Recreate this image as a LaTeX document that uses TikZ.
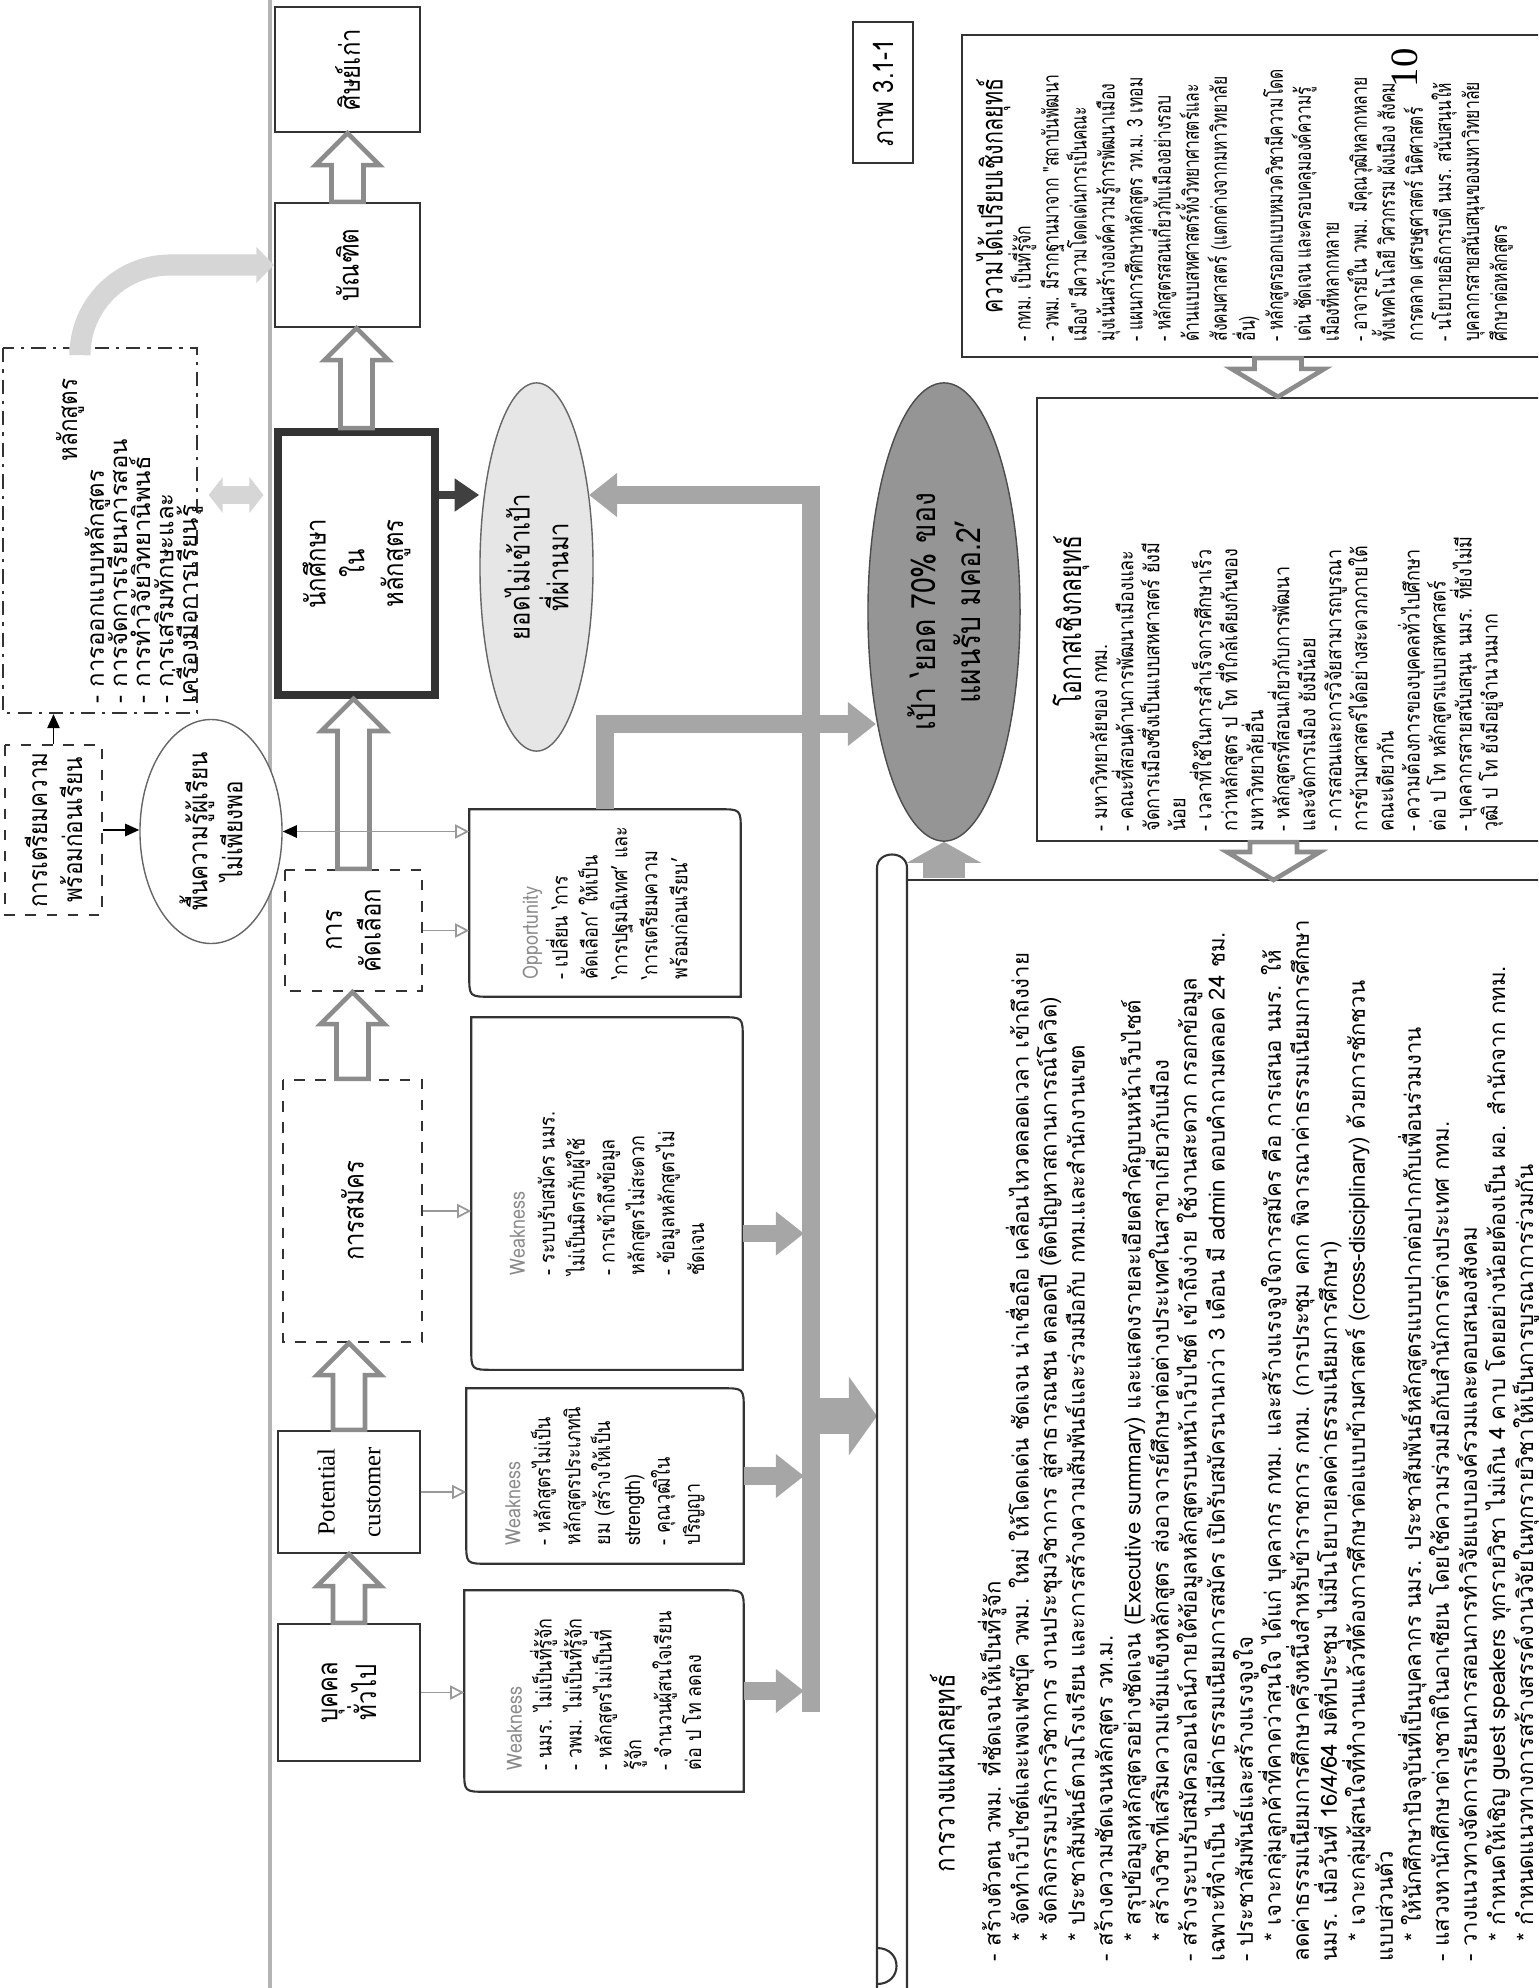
\documentclass[tikz,border=0pt]{standalone}
\usepackage{fontspec}
\setmainfont{Liberation Serif}
\newfontfamily\thaifont[Script=Thai,FakeStretch=0.85]{Loma}
\newfontfamily\thainarrow[Script=Thai,FakeStretch=0.72]{Loma}
\newfontfamily\thaiwide[Script=Thai]{Loma}
\usetikzlibrary{arrows.meta,calc,shapes.geometric,positioning}
\lineskiplimit=-100pt
\lineskip=0pt
\definecolor{barfill}{HTML}{A6A6A6}
\definecolor{lightarrow}{HTML}{D6D6D6}
\definecolor{targetfill}{HTML}{959595}
\definecolor{missfill}{HTML}{E6E6E6}
\definecolor{blockedge}{HTML}{8C8C8C}
\definecolor{wkgray}{HTML}{8A8A8A}
\definecolor{foldline}{HTML}{B4B4B4}
\tikzset{
  boxline/.style={draw=black!80,line width=0.6pt},
  mainbox/.style={boxline,rotate=90,align=center,inner sep=2pt,font=\thaifont\fontsize{8}{11}\selectfont},
  dashbox/.style={mainbox,dashed},
  weakbox/.style={rotate=90,align=left,inner sep=0pt,font=\thaifont\fontsize{6}{8.5}\selectfont},
  blockline/.style={draw=blockedge,fill=white,line width=1.3pt},
  thinarrow/.style={draw=gray!80,line width=0.5pt,-{Triangle[open,length=4pt,width=4pt]}},
  blackarrow/.style={draw=black,line width=0.5pt,-{Triangle[length=4pt,width=3.5pt]}},
  graybar/.style={draw=barfill,line width=5pt,-{Triangle[length=8pt,width=12pt]}},
  bodytext/.style={rotate=90,anchor=north west,align=left,inner sep=0pt,font=\thainarrow\fontsize{6.2}{7.97}\selectfont}
}
% hollow block arrow: from, to, shaft half width, head half width, head length
\newcommand{\blockarrow}[5]{%
  \path (#1) coordinate (ba-s) (#2) coordinate (ba-t);
  \path ($(ba-t)!#5!(ba-s)$) coordinate (ba-b);
  \draw[blockline] ($(ba-s)!#3!90:(ba-t)$) -- ($(ba-b)!#3!90:(ba-t)$) -- ($(ba-b)!#4!90:(ba-t)$) -- (ba-t)
    -- ($(ba-b)!#4!-90:(ba-t)$) -- ($(ba-b)!#3!-90:(ba-t)$) -- ($(ba-s)!#3!-90:(ba-t)$) -- cycle;}
% box with two rounded corners (top right, bottom left)
\newcommand{\diagoutline}[1]{%
  \draw[boxline] (#1.north east) -- ($(#1.south east)+(-22,0)$) .. controls (#1.south east) .. ($(#1.south east)+(0,22)$)
    -- (#1.south west) -- ($(#1.north west)+(22,0)$) .. controls (#1.north west) .. ($(#1.north west)+(0,-22)$) -- cycle;}
\newcommand{\stline}{\hspace*{0.2cm}* }
\begin{document}
\begin{tikzpicture}[x=0.01cm,y=-0.01cm]
\useasboundingbox (0,0) rectangle (1538,1988);
\clip (0,0) rectangle (1538,1988);
\draw[foldline,line width=1.2pt](270,0)--(270,1988);
%main chain
\node[mainbox,minimum width=1.25cm,minimum height=1.45cm] (alumni) at (347.5,69.5) {ศิษย์เก่า};
\node[mainbox,minimum width=1.24cm,minimum height=1.45cm] (grad) at (347.5,265) {บัณฑิต};
\node[mainbox,line width=2.2pt,minimum width=2.63cm,minimum height=1.57cm] (student) at (356.5,563.5) {นักศึกษา\\ใน\\หลักสูตร};
\node[dashbox,minimum width=1.21cm,minimum height=1.37cm] (select) at (353.5,930.5) {การ\\คัดเลือก};
\node[dashbox,minimum width=2.62cm,minimum height=1.39cm] (apply) at (352.5,1211) {การสมัคร};
\node[mainbox,minimum width=1.22cm,minimum height=1.42cm,font=\fontsize{7}{13}\selectfont] (potential) at (349,1492) {Potential\\customer};
\node[mainbox,minimum width=1.37cm,minimum height=1.42cm] (general) at (349,1692.5) {บุคคล\\ทั่วไป};
\blockarrow{general.east}{general.east |- potential.west}{0.16cm}{0.32cm}{0.32cm}
\blockarrow{potential.east}{potential.east |- apply.west}{0.16cm}{0.32cm}{0.32cm}
\blockarrow{apply.east}{apply.east |- select.west}{0.16cm}{0.32cm}{0.32cm}
\blockarrow{select.east}{select.east |- student.west}{0.16cm}{0.32cm}{0.32cm}
\blockarrow{student.east}{student.east |- grad.west}{0.16cm}{0.32cm}{0.32cm}
\blockarrow{grad.east}{grad.east |- alumni.west}{0.16cm}{0.32cm}{0.32cm}
%left side
\node[boxline,rotate=90,dash pattern=on 4pt off 2pt on 1pt off 2pt,minimum width=3.65cm,minimum height=1.94cm] (curr) at (100,530.5) {};
\node[rotate=90,inner sep=0pt,font=\thaifont\fontsize{7.5}{9}\selectfont] (currtitle) at (70,420) {หลักสูตร};
\node[bodytext,font=\thaiwide\fontsize{6.8}{6.6}\selectfont] (currlist) at (84,704)
  {- การออกแบบหลักสูตร\\- การจัดการเรียนการสอน\\- การทำวิจัยวิทยานิพนธ์\\- การเสริมทักษะและ\\เครื่องมือการเรียนรู้};
\node[dashbox,minimum width=1.6cm,minimum height=0.97cm,font=\thaifont\fontsize{7.5}{10}\selectfont] (prep) at (53.5,830) {การเตรียมความ\\พร้อมก่อนเรียน};
\node[ellipse,draw=black!60,fill=white,rotate=90,minimum width=2.17cm,minimum height=1.42cm,inner sep=0pt,align=center,font=\thaifont\fontsize{7.5}{10}\selectfont] (knowl) at (211,831.5) {พื้นความรู้ผู้เรียน\\ไม่เพียงพอ};
\node[ellipse,draw=black!60,fill=missfill,rotate=90,minimum width=3.68cm,minimum height=1.13cm,inner sep=0pt,align=center,font=\thaifont\fontsize{8}{11}\selectfont] (missed) at (536.5,567) {ยอดไม่เข้าเป้า\\ที่ผ่านมา};
\coordinate (midrow) at (0,495);
\coordinate (missin) at (589,495);
\draw[blackarrow] (prep.east) -- (prep.east |- curr.west);
\draw[blackarrow] (prep.south) -- (prep.south -| knowl.north);
\draw[lightarrow,line width=5pt,shorten <=3pt,shorten >=3pt,{Triangle[length=4pt,width=10pt]}-{Triangle[length=4pt,width=10pt]}] (curr.south |- midrow) -- (student.north |- midrow);
\draw[lightarrow,line width=6pt,rounded corners=0.9cm,-{Triangle[length=5pt,width=10pt]}] ($(curr.east)+(-20,0)$) |- (grad.north);
\draw[black!75,line width=2.5pt,-{Triangle[length=7pt,width=9pt]}] (student.south |- midrow) -- (missed.north |- midrow);
%weakness boxes
\node[weakbox,minimum width=2cm,minimum height=2.78cm] (w1) at (604,1691)
  {{\color{wkgray}Weakness}\\- นมร. ไม่เป็นที่รู้จัก\\- วพม. ไม่เป็นที่รู้จัก\\- หลักสูตรไม่เป็นที่\\รู้จัก\\- จำนวนผู้สนใจเรียน\\ต่อ ป โท ลดลง};
\node[weakbox,minimum width=1.74cm,minimum height=2.76cm] (w2) at (605,1476)
  {{\color{wkgray}Weakness}\\- หลักสูตรไม่เป็น\\หลักสูตรประเภทนิ\\ยม (สร้างให้เป็น\\strength)\\- คุณวุฒิใน\\ปริญญา};
\node[weakbox,minimum width=3.51cm,minimum height=2.7cm] (w3) at (607,1193.5)
  {{\color{wkgray}Weakness}\\- ระบบรับสมัคร นมร.\\ไม่เป็นมิตรกับผู้ใช้\\- การเข้าถึงข้อมูล\\หลักสูตรไม่สะดวก\\- ข้อมูลหลักสูตรไม่\\ชัดเจน};
\node[weakbox,minimum width=1.86cm,minimum height=2.7cm] (opp) at (605,903)
  {{\color{wkgray}Opportunity}\\- เปลี่ยน ‘การ\\คัดเลือก’ ให้เป็น\\‘การปฐมนิเทศ’ และ\\‘การเตรียมความ\\พร้อมก่อนเรียน’};
\diagoutline{w1}
\diagoutline{w2}
\diagoutline{w3}
\diagoutline{opp}
\draw[thinarrow] (general.south) -- (general.south -| w1.north);
\draw[thinarrow] (potential.south) -- (potential.south -| w2.north);
\draw[thinarrow] (apply.south) -- (apply.south -| w3.north);
\draw[thinarrow] (select.south) -- (select.south -| opp.north);
\draw[draw=gray!80,line width=0.5pt,{Triangle[color=black,length=4pt,width=3.5pt]}-{Triangle[open,length=4pt,width=4pt]}] (knowl.south) -- (knowl.south -| opp.north);
%target
\node[ellipse,draw=black!70,fill=targetfill,rotate=90,minimum width=4.58cm,minimum height=1.52cm,inner sep=0pt,align=center,font=\thaifont\fontsize{9.5}{13}\selectfont] (target) at (944,612) {เป้า ‘ยอด 70\% ของ\\แผนรับ มคอ.2’};
%gray arrows
\coordinate (barx) at (811,0);
\coordinate (barbot) at (811,1712);
\coordinate (scrollin) at (877,1416);
\coordinate (scrollout) at (944,878);
\coordinate (tgtin) at (876,724);
\draw[graybar] (barbot) -- (barx |- midrow) -- (missin);
\draw[graybar,shorten >=2pt] (w1.south) -- (w1.south -| barx);
\draw[graybar,shorten >=2pt] (w2.south) -- (w2.south -| barx);
\draw[graybar,shorten >=2pt] ($(w3.south)+(0,40)$) -- ($(w3.south -| barx)+(0,40)$);
\draw[graybar] (opp.east) |- (tgtin);
\draw[graybar,line width=10pt,-{Triangle[length=8pt,width=22pt]}] (scrollin -| barx) -- (scrollin);
\draw[graybar,line width=12pt,-{Triangle[length=6pt,width=21pt]}] (scrollout) -- (target.west);
%right column
\node[draw=black!80,line width=0.6pt,rotate=90,minimum width=1.41cm,minimum height=0.6cm,font=\thaifont\fontsize{8}{10}\selectfont] (figlabel) at (883,92.5) {ภาพ 3.1-1};
\node[boxline,rotate=90,minimum width=3.22cm,minimum height=5.98cm] (strength) at (1261,196) {};
\node[boxline,rotate=90,minimum width=4.43cm,minimum height=5.23cm] (oppbox) at (1298.5,619.5) {};
\node[bodytext] (strengthtxt) at (975,342)
  {\makebox[2.9cm][c]{\fontsize{8.5}{8.5}\selectfont ความได้เปรียบเชิงกลยุทธ์}\\
  - กทม. เป็นที่รู้จัก\\
  - วพม. มีรากฐานมาจาก "สถาบันพัฒนา\\
  เมือง" มีความโดดเด่นการเป็นคณะ\\
  มุ่งเน้นสร้างองค์ความรู้การพัฒนาเมือง\\
  - แผนการศึกษาหลักสูตร วท.ม. 3 เทอม\\
  - หลักสูตรสอนเกี่ยวกับเมืองอย่างรอบ\\
  ด้านแบบสหศาสตร์ทั้งวิทยาศาสตร์และ\\
  สังคมศาสตร์ (แตกต่างจากมหาวิทยาลัย\\
  อื่น)\\
  - หลักสูตรออกแบบหมวดวิชามีความโดด\\
  เด่น ชัดเจน และครอบคลุมองค์ความรู้\\
  เมืองที่หลากหลาย\\
  - อาจารย์ใน วพม. มีคุณวุฒิหลากหลาย\\
  ทั้งเทคโนโลยี วิศวกรรม ผังเมือง สังคม\\
  การตลาด เศรษฐศาสตร์ นิติศาสตร์\\
  - นโยบายอธิการบดี นมร. สนับสนุนให้\\
  บุคลากรสายสนับสนุนของมหาวิทยาลัย\\
  ศึกษาต่อหลักสูตร};
\node[bodytext,font=\thaifont\fontsize{6}{7.4}\selectfont] (opptxt) at (1052,832)
  {\makebox[4.2cm][c]{\thainarrow\fontsize{9}{9}\selectfont โอกาสเชิงกลยุทธ์}\\
  - มหาวิทยาลัยของ กทม.\\
  - คณะที่สอนด้านการพัฒนาเมืองและ\\
  จัดการเมืองซึ่งเป็นแบบสหศาสตร์ ยังมี\\
  น้อย\\
  - เวลาที่ใช้ในการสำเร็จการศึกษาเร็ว\\
  กว่าหลักสูตร ป โท ที่ใกล้เคียงกันของ\\
  มหาวิทยาลัยอื่น\\
  - หลักสูตรที่สอนเกี่ยวกับการพัฒนา\\
  และจัดการเมือง ยังมีน้อย\\
  - การสอนและการวิจัยสามารถบูรณา\\
  การข้ามศาสตร์ได้อย่างสะดวกภายใต้\\
  คณะเดียวกัน\\
  - ความต้องการของบุคคลทั่วไปศึกษา\\
  ต่อ ป โท หลักสูตรแบบสหศาสตร์\\
  - บุคลากรสายสนับสนุน นมร. ที่ยังไม่มี\\
  วุฒิ ป โท ยังมีอยู่จำนวนมาก};
\node[rotate=90,font=\fontsize{11}{12}\selectfont] (pagenum) at (1405,68) {10};
\coordinate (sa) at ($(strength.west)+(17,0)$);
\blockarrow{sa}{sa |- oppbox.east}{0.235cm}{0.465cm}{0.28cm}
%scroll
\coordinate (scrolltop) at (0,880);
\draw[boxline] (877,1988) -- (877,868) .. controls (877,850) and (907,850) .. (907,868) -- (907,1988);
\draw[boxline] (907,880) -- (1560,880);
\draw[boxline] (877,1948) .. controls (903,1948) and (903,1984) .. (877,1984);
\coordinate (oa) at ($(oppbox.west)+(-25,0)$);
\blockarrow{oa}{oa |- scrolltop}{0.235cm}{0.465cm}{0.28cm}
\node[rotate=90,font=\thaifont\fontsize{8}{10}\selectfont] (plantitle) at (946,1773) {การวางแผนกลยุทธ์};
\node[bodytext,font=\thaiwide\fontsize{6.3}{7.97}\selectfont] (plantxt) at (977,1962)
  {- สร้างตัวตน วพม. ที่ชัดเจนให้เป็นที่รู้จัก\\
  \stline จัดทำเว็บไซต์และเพจเฟซบุ๊ค วพม. ใหม่ ให้โดดเด่น ชัดเจน น่าเชื่อถือ เคลื่อนไหวตลอดเวลา เข้าถึงง่าย\\
  \stline จัดกิจกรรมบริการวิชาการ งานประชุมวิชาการ สู่สาธารณชน ตลอดปี (ติดปัญหาสถานการณ์โควิด)\\
  \stline ประชาสัมพันธ์ตามโรงเรียน และการสร้างความสัมพันธ์และร่วมมือกับ กทม.และสำนักงานเขต\\
  - สร้างความชัดเจนหลักสูตร วท.ม.\\
  \stline สรุปข้อมูลหลักสูตรอย่างชัดเจน (Executive summary) และแสดงรายละเอียดสำคัญบนหน้าเว็บไซต์\\
  \stline สร้างวิชาที่เสริมความเข้มแข็งหลักสูตร ส่งอาจารย์ศึกษาต่อต่างประเทศในสาขาเกี่ยวกับเมือง\\
  - สร้างระบบรับสมัครออนไลน์ภายใต้ข้อมูลหลักสูตรบนหน้าเว็บไซต์ เข้าถึงง่าย ใช้งานสะดวก กรอกข้อมูล\\
  เฉพาะที่จำเป็น ไม่มีค่าธรรมเนียมการสมัคร เปิดรับสมัครนานกว่า 3 เดือน มี admin ตอบคำถามตลอด 24 ชม.\\
  - ประชาสัมพันธ์และสร้างแรงจูงใจ\\
  \stline เจาะกลุ่มลูกค้าที่คาดว่าสนใจ ได้แก่ บุคลากร กทม. และสร้างแรงจูงใจการสมัคร คือ การเสนอ นมร. ให้\\
  ลดค่าธรรมเนียมการศึกษาครึ่งหนึ่งสำหรับข้าราชการ กทม. (การประชุม คกก พิจารณาค่าธรรมเนียมการศึกษา\\
  นมร. เมื่อวันที่ 16/4/64 มติที่ประชุม ไม่มีนโยบายลดค่าธรรมเนียมการศึกษา)\\
  \stline เจาะกลุ่มผู้สนใจที่ทำงานแล้วที่ต้องการศึกษาต่อแบบข้ามศาสตร์ (cross-disciplinary) ด้วยการชักชวน\\
  แบบส่วนตัว\\
  \stline ให้นักศึกษาปัจจุบันที่เป็นบุคลากร นมร. ประชาสัมพันธ์หลักสูตรแบบปากต่อปากกับเพื่อนร่วมงาน\\
  - แสวงหานักศึกษาต่างชาติในอาเซียน โดยใช้ความร่วมมือกับสำนักการต่างประเทศ กทม.\\
  - วางแนวทางจัดการเรียนการสอนการทำวิจัยแบบองค์รวมและตอบสนองสังคม\\
  \stline กำหนดให้เชิญ guest speakers ทุกรายวิชา ไม่เกิน 4 คาบ โดยอย่างน้อยต้องเป็น ผอ. สำนักจาก กทม.\\
  \stline กำหนดแนวทางการสร้างสรรค์งานวิจัยในทุกรายวิชาให้เป็นการบูรณาการร่วมกัน};
\end{tikzpicture}
\end{document}
